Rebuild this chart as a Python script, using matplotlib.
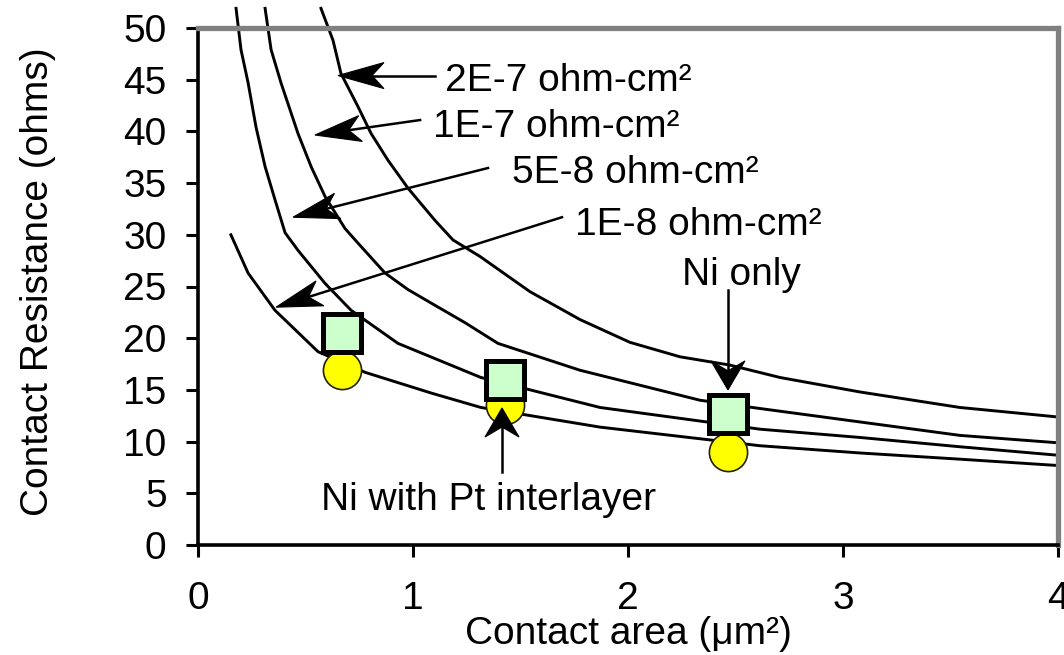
import numpy as np
import matplotlib
matplotlib.use('Agg')
import matplotlib.pyplot as plt
from matplotlib.patches import Polygon
from matplotlib.transforms import IdentityTransform

plt.rcParams['font.family'] = ['Liberation Sans', 'DejaVu Sans']

# curves (contact area in um^2, resistance in ohms)
area_2e7 = [0.572, 0.628, 0.665, 0.744, 0.805, 0.884, 0.977, 1.102, 1.186, 1.312, 1.544,
            1.777, 2.009, 2.242, 2.474, 2.707, 3.079, 3.544, 3.99]
res_2e7 = [51.9, 48.8, 45.6, 42.4, 39.8, 37.2, 34.5, 31.4, 29.5, 27.9, 24.5,
           21.8, 19.6, 18.2, 17.4, 16.2, 14.8, 13.3, 12.4]

area_1e7 = [0.312, 0.340, 0.386, 0.465, 0.526, 0.591, 0.684, 0.744, 0.870, 0.977, 1.084,
            1.242, 1.395, 1.777, 2.335, 2.614, 3.079, 3.544, 3.99]
res_1e7 = [51.9, 47.9, 44.7, 39.8, 36.6, 33.7, 30.6, 29.2, 26.3, 24.7, 23.4,
           21.5, 19.5, 16.9, 14.0, 13.2, 11.9, 10.6, 9.9]

area_5e8 = [0.177, 0.200, 0.233, 0.270, 0.312, 0.358, 0.405, 0.465, 0.591, 0.712, 0.930,
            1.316, 1.870, 2.614, 3.079, 3.544, 3.99]
res_5e8 = [51.9, 47.9, 44.7, 40.4, 36.6, 33.4, 30.2, 28.5, 25.3, 22.7, 19.5,
           16.2, 13.3, 11.2, 10.4, 9.5, 8.7]

area_1e8 = [0.153, 0.233, 0.358, 0.558, 0.777, 1.084, 1.316, 1.870, 2.614, 3.079, 3.544, 3.99]
res_1e8 = [30.0, 26.3, 22.7, 18.7, 16.7, 14.7, 13.3, 11.4, 9.6, 8.9, 8.3, 7.7]

# measured contacts
meas_area = [0.67, 1.43, 2.465]
ni_only = [20.5, 16.0, 12.7]
ni_pt = [16.9, 13.5, 9.0]

x_ticks = [0, 1, 2, 3, 4]
y_ticks = [0, 5, 10, 15, 20, 25, 30, 35, 40, 45, 50]

FS = 28

fig = plt.figure(figsize=(10.64, 6.55), dpi=100)
ax = fig.add_axes([198 / 1064, 1 - 545 / 655, 860 / 1064, 517 / 655])
ax.set_xlim(0, 4)
ax.set_ylim(0, 50)

for a, r in [(area_2e7, res_2e7), (area_1e7, res_1e7), (area_5e8, res_5e8), (area_1e8, res_1e8)]:
    ax.plot(a, r, color='black', lw=2.1, clip_on=False, zorder=2,
            solid_joinstyle='round')

ax.plot(meas_area, ni_pt, 'o', ms=27.5, mfc='#ffff00', mec='#222200', mew=1.2,
        clip_on=False, zorder=3)
ax.plot(meas_area, ni_only, 's', ms=27.5, mfc='#ccffcc', mec='black', mew=3.6,
        clip_on=False, zorder=4)

ax.set_xticks(x_ticks)
ax.set_yticks(y_ticks)
ax.tick_params(axis='both', labelsize=FS, length=8.6, width=2.2, color='black')
ax.tick_params(axis='y', pad=14)
ax.tick_params(axis='x', pad=17)

ax.set_xlabel('Contact area (\u03bcm\u00b2)', fontsize=FS)
ax.xaxis.set_label_coords(0.5, -0.138)
ax.set_ylabel('Contact Resistance (ohms)', fontsize=FS)
ax.yaxis.set_label_coords(-0.165, 0.51)

ax.spines['left'].set_linewidth(2.6)
ax.spines['bottom'].set_linewidth(2.6)
for s in ['top', 'right']:
    ax.spines[s].set_color('#808080')
    ax.spines[s].set_linewidth(3.8)


def arrow(start, tip, length, width, notch, lw, z=5):
    p0 = ax.transData.transform(start)
    p1 = ax.transData.transform(tip)
    d = (p1 - p0) / np.hypot(*(p1 - p0))
    n = np.array([-d[1], d[0]])
    back = p1 - d * length
    inner = p1 - d * (length - notch)
    ax.plot([p0[0], inner[0]], [p0[1], inner[1]], color='black', lw=lw,
            transform=IdentityTransform(), clip_on=False, zorder=z)
    pts = [p1, back + n * width / 2, inner, back - n * width / 2]
    ax.add_patch(Polygon(pts, closed=True, facecolor='black', edgecolor='black', lw=0.8,
                         transform=IdentityTransform(), clip_on=False, zorder=z))


txt = dict(fontsize=FS, va='baseline')
ax.text(1.149, 43.9, '2E-7 ohm-cm\u00b2', ha='left', **txt)
ax.text(1.093, 39.5, '1E-7 ohm-cm\u00b2', ha='left', **txt)
ax.text(1.460, 35.0, '5E-8 ohm-cm\u00b2', ha='left', **txt)
ax.text(1.753, 30.0, '1E-8 ohm-cm\u00b2', ha='left', **txt)
ax.text(2.526, 25.1, 'Ni only', ha='center', **txt)
ax.text(1.35, 3.4, 'Ni with Pt interlayer', ha='center', **txt)

arrow((1.102, 45.4), (0.651, 45.4), 46, 26, 12, 1.8)
arrow((1.033, 41.1), (0.544, 39.65), 46, 26, 12, 1.8)
arrow((1.349, 36.46), (0.442, 31.7), 46, 26, 12, 1.8)
arrow((1.693, 31.7), (0.363, 23.0), 46, 26, 12, 1.8)
arrow((2.465, 24.66), (2.465, 15.0), 29, 34, 10, 1.8)
arrow((1.414, 7.06), (1.414, 13.25), 29, 34, 10, 1.8, z=6)

fig.savefig('out.png', dpi=100)
